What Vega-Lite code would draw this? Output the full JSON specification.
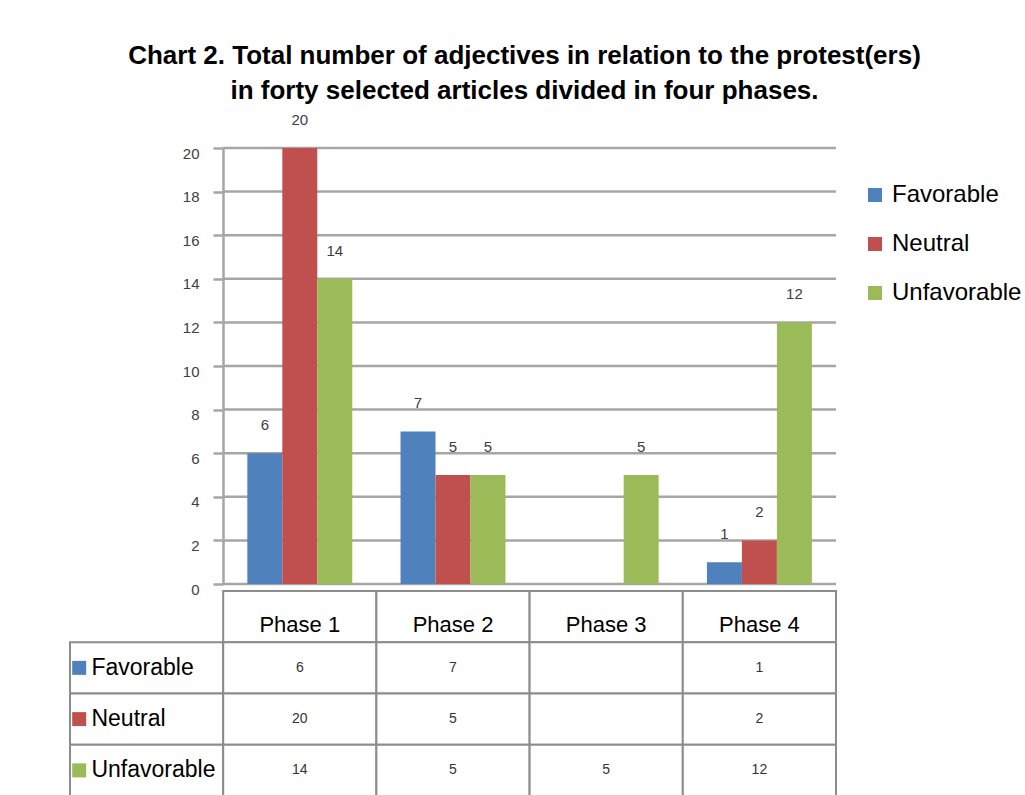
{
  "$schema": "https://vega.github.io/schema/vega-lite/v6.json",
  "padding": {"left": 69, "top": 43, "right": 0, "bottom": 0},
  "background": "white",
  "config": {"font": "Liberation Sans", "view": {"stroke": null}},
  "bounds": "flush",
  "spacing": 7,
  "title": {
    "text": ["Chart 2. Total number of adjectives in relation to the protest(ers)", "in forty selected articles divided in four phases."],
    "font": "Liberation Sans",
    "fontSize": 26,
    "fontWeight": "bold",
    "lineHeight": 35,
    "color": "black",
    "anchor": "middle",
    "offset": 9,
    "dx": -21
  },
  "datasets": {
    "bars": [
      {"phase": "Phase 1", "series": "Favorable", "value": 6},
      {"phase": "Phase 1", "series": "Neutral", "value": 20},
      {"phase": "Phase 1", "series": "Unfavorable", "value": 14},
      {"phase": "Phase 2", "series": "Favorable", "value": 7},
      {"phase": "Phase 2", "series": "Neutral", "value": 5},
      {"phase": "Phase 2", "series": "Unfavorable", "value": 5},
      {"phase": "Phase 3", "series": "Unfavorable", "value": 5},
      {"phase": "Phase 4", "series": "Favorable", "value": 1},
      {"phase": "Phase 4", "series": "Neutral", "value": 2},
      {"phase": "Phase 4", "series": "Unfavorable", "value": 12}
    ],
    "gridlines": [
      {"v": 0}, {"v": 2}, {"v": 4}, {"v": 6}, {"v": 8}, {"v": 10},
      {"v": 12}, {"v": 14}, {"v": 16}, {"v": 18}, {"v": 20}
    ],
    "table": [
      {"row": "header", "col": "Phase 1", "text": "Phase 1"},
      {"row": "header", "col": "Phase 2", "text": "Phase 2"},
      {"row": "header", "col": "Phase 3", "text": "Phase 3"},
      {"row": "header", "col": "Phase 4", "text": "Phase 4"},
      {"row": "Favorable", "col": "label", "text": "Favorable"},
      {"row": "Favorable", "col": "Phase 1", "text": "6"},
      {"row": "Favorable", "col": "Phase 2", "text": "7"},
      {"row": "Favorable", "col": "Phase 3", "text": ""},
      {"row": "Favorable", "col": "Phase 4", "text": "1"},
      {"row": "Neutral", "col": "label", "text": "Neutral"},
      {"row": "Neutral", "col": "Phase 1", "text": "20"},
      {"row": "Neutral", "col": "Phase 2", "text": "5"},
      {"row": "Neutral", "col": "Phase 3", "text": ""},
      {"row": "Neutral", "col": "Phase 4", "text": "2"},
      {"row": "Unfavorable", "col": "label", "text": "Unfavorable"},
      {"row": "Unfavorable", "col": "Phase 1", "text": "14"},
      {"row": "Unfavorable", "col": "Phase 2", "text": "5"},
      {"row": "Unfavorable", "col": "Phase 3", "text": "5"},
      {"row": "Unfavorable", "col": "Phase 4", "text": "12"}
    ]
  },
  "vconcat": [
    {
      "width": 766,
      "height": 436,
      "layer": [
        {
          "data": {"name": "gridlines"},
          "mark": {"type": "rule", "color": "#a6a6a6", "strokeWidth": 2.5},
          "encoding": {
            "y": {
              "field": "v", "type": "quantitative",
              "scale": {"domain": [0, 20], "nice": false},
              "axis": {
                "values": [0, 2, 4, 6, 8, 10, 12, 14, 16, 18, 20],
                "offset": -153,
                "grid": false,
                "title": null,
                "domainColor": "#a6a6a6", "domainWidth": 2.5,
                "tickColor": "#a6a6a6", "tickWidth": 2.5, "tickSize": 10,
                "labelFontSize": 15, "labelColor": "#404040", "labelPadding": 14,
                "labelOffset": 5
              }
            },
            "x": {
              "datum": "Phase 1", "type": "nominal", "bandPosition": 0,
              "scale": {"domain": ["label", "Phase 1", "Phase 2", "Phase 3", "Phase 4"], "paddingInner": 0, "paddingOuter": 0},
              "axis": null
            },
            "x2": {"value": "width"}
          }
        },
        {
          "data": {"name": "bars"},
          "mark": {"type": "bar"},
          "encoding": {
            "x": {"field": "phase", "type": "nominal", "axis": null},
            "xOffset": {"field": "series", "type": "nominal", "scale": {"domain": ["Favorable", "Neutral", "Unfavorable"], "paddingOuter": 0.69, "paddingInner": 0}},
            "y": {"field": "value", "type": "quantitative"},
            "color": {
              "field": "series", "type": "nominal",
              "scale": {"domain": ["Favorable", "Neutral", "Unfavorable"], "range": ["#4F81BD", "#C0504D", "#9BBB59"]},
              "legend": {
                "orient": "none", "legendX": 793, "legendY": 35,
                "title": null, "symbolType": "square", "symbolSize": 196,
                "symbolStrokeWidth": 0, "symbolOpacity": 1,
                "labelFontSize": 24, "labelColor": "black", "labelFont": "Liberation Sans",
                "rowPadding": 25, "labelOffset": 5
              }
            }
          }
        },
        {
          "data": {"name": "bars"},
          "mark": {"type": "text", "baseline": "bottom", "dy": -20, "fontSize": 15, "color": "#404040"},
          "encoding": {
            "x": {"field": "phase", "type": "nominal", "axis": null},
            "xOffset": {"field": "series", "type": "nominal"},
            "y": {"field": "value", "type": "quantitative"},
            "text": {"field": "value", "type": "quantitative"}
          }
        }
      ]
    },
    {
      "width": 766,
      "height": 205,
      "data": {"name": "table"},
      "encoding": {
        "x": {"field": "col", "type": "nominal", "scale": {"domain": ["label", "Phase 1", "Phase 2", "Phase 3", "Phase 4"], "paddingInner": 0, "paddingOuter": 0}, "axis": null},
        "y": {"field": "row", "type": "nominal", "scale": {"domain": ["header", "Favorable", "Neutral", "Unfavorable"], "paddingInner": 0, "paddingOuter": 0}, "axis": null}
      },
      "layer": [
        {"mark": {"type": "rect", "fill": "white", "stroke": "#8c8c8c", "strokeWidth": 2}},
        {
          "transform": [{"filter": "datum.row === 'header'"}],
          "mark": {"type": "text", "fontSize": 22, "color": "black", "dy": 8},
          "encoding": {"text": {"field": "text"}}
        },
        {
          "transform": [{"filter": "datum.col === 'label'"}],
          "mark": {"type": "text", "align": "left", "fontSize": 23, "color": "black"},
          "encoding": {
            "x": {"field": "col", "type": "nominal", "bandPosition": 0.14},
            "text": {"field": "text"}
          }
        },
        {
          "transform": [{"filter": "datum.col === 'label'"}],
          "mark": {"type": "square", "size": 196, "filled": true, "opacity": 1},
          "encoding": {
            "x": {"field": "col", "type": "nominal", "bandPosition": 0.06},
            "color": {"field": "row", "type": "nominal", "legend": null}
          }
        },
        {
          "transform": [{"filter": "datum.row !== 'header' && datum.col !== 'label'"}],
          "mark": {"type": "text", "fontSize": 14, "color": "#333333"},
          "encoding": {"text": {"field": "text"}}
        }
      ]
    }
  ],
  "resolve": {"scale": {"color": "shared"}}
}
